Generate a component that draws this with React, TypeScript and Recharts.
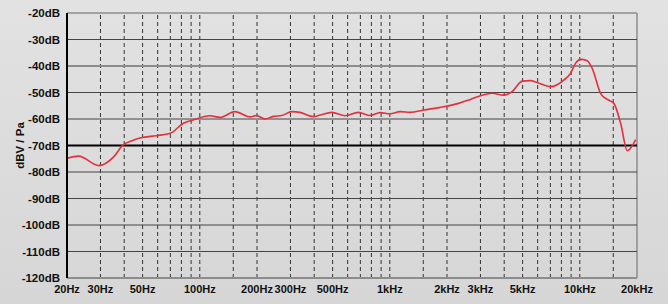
import React from 'react';
import { LineChart, Line, XAxis, YAxis, ReferenceLine, Label } from 'recharts';

// frequency response (Hz / dBV per Pa)
const FREQS = [
  20, 23, 29.5, 35, 39.5, 44, 49, 59, 70, 82, 92, 113, 128, 153, 184, 199, 220, 244, 270, 305, 337,
  396, 430, 495, 582, 684, 789, 889, 1004, 1135, 1282, 1507, 1846, 2303, 2655, 3060, 3454, 3973,
  4400, 4970, 5490, 5957, 7010, 8240, 8930, 9490, 10090, 10940, 11620, 12860, 13940, 15100, 16400,
  17780, 19680,
];
const LEVELS = [
  -74.8, -74.0, -77.6, -74.5, -69.8, -68.2, -67.1, -66.3, -65.4, -61.6, -60.4, -58.8, -59.4, -57.2,
  -59.2, -58.7, -60.0, -59.0, -58.7, -57.2, -57.5, -59.1, -58.5, -57.5, -58.8, -57.5, -58.7, -57.6,
  -58.0, -57.2, -57.5, -56.6, -55.6, -54.1, -52.6, -51.0, -50.3, -51.0, -49.7, -45.7, -45.5, -46.2,
  -47.8, -45.3, -42.8, -39.0, -37.5, -38.0, -40.9, -50.3, -52.6, -54.1, -61.6, -72.0, -67.8,
];

const X_TICKS = [20, 30, 50, 100, 200, 300, 500, 1000, 2000, 3000, 5000, 10000, 20000];
const Y_TICKS = [-120, -110, -100, -90, -80, -70, -60, -50, -40, -30, -20];
const GRID_FREQS = [
  30, 40, 50, 60, 70, 80, 90, 100, 150, 200, 300, 400, 500, 600, 700, 800, 900, 1000, 1500, 2000,
  3000, 4000, 5000, 6000, 7000, 8000, 9000, 10000, 15000,
];

const data = FREQS.map((f, i) => ({ f, db: LEVELS[i] }));

const fmtHz = (v: number) => (v >= 1000 ? `${v / 1000}kHz` : `${v}Hz`);
const FONT = '"Liberation Sans", Arial, sans-serif';
const yTickStyle = { fontFamily: FONT, fontSize: 11.5, fontWeight: 'bold', fill: '#111' };
const xTickStyle = { ...yTickStyle, fontSize: 11 };

function hLineStyle(v: number) {
  if (v === -70) return { stroke: '#000', strokeWidth: 2 };
  if (v === -40) return { stroke: '#8c8c8c', strokeWidth: 2 };
  if (v === -20 || v === -120) return { stroke: '#8c8c8c', strokeWidth: 1.5 };
  return { stroke: '#444', strokeWidth: 1 };
}

export default function App() {
  return (
    <div
      style={{
        width: 668,
        height: 304,
        background: 'linear-gradient(#e2e2e2, #d6d6d6)',
      }}
    >
      <style>{`body{margin:0}`}</style>
      <LineChart width={668} height={304} data={data} margin={{ top: 13, right: 31, bottom: 0, left: 0 }}>
        <XAxis
          dataKey="f"
          type="number"
          scale="log"
          domain={[20, 20000]}
          ticks={X_TICKS}
          tickFormatter={fmtHz}
          interval={0}
          height={26}
          tickSize={0}
          tickMargin={7}
          tick={xTickStyle}
          axisLine={{ stroke: '#8c8c8c', strokeWidth: 2 }}
          allowDataOverflow
        />
        <YAxis
          type="number"
          domain={[-120, -20]}
          ticks={Y_TICKS}
          tickFormatter={(v: number) => `${v}dB`}
          interval={0}
          width={67}
          tickSize={0}
          tickMargin={7}
          tick={yTickStyle}
          axisLine={{ stroke: '#000', strokeWidth: 2 }}
        >
          <Label
            content={(props: any) => {
              const vb = props.viewBox || { y: 13, height: 265 };
              const cy = vb.y + vb.height / 2;
              return (
                <text
                  x={20}
                  y={cy}
                  transform={`rotate(-90, 20, ${cy})`}
                  textAnchor="middle"
                  dominantBaseline="central"
                  style={{ fontFamily: FONT, fontSize: 11.5, fontWeight: 'bold', fill: '#111' }}
                >
                  dBV / Pa
                </text>
              );
            }}
          />
        </YAxis>
        {GRID_FREQS.map((f) => (
          <ReferenceLine key={`v${f}`} x={f} stroke="#333" strokeWidth={1} strokeDasharray="4 3" />
        ))}
        <ReferenceLine x={20000} stroke="#8c8c8c" strokeWidth={1.5} />
        {Y_TICKS.filter((v) => v !== -120).map((v) => (
          <ReferenceLine key={`h${v}`} y={v} {...hLineStyle(v)} />
        ))}
        <Line
          type="monotone"
          dataKey="db"
          stroke="#e4303c"
          strokeWidth={1.6}
          dot={false}
          isAnimationActive={false}
        />
      </LineChart>
    </div>
  );
}
